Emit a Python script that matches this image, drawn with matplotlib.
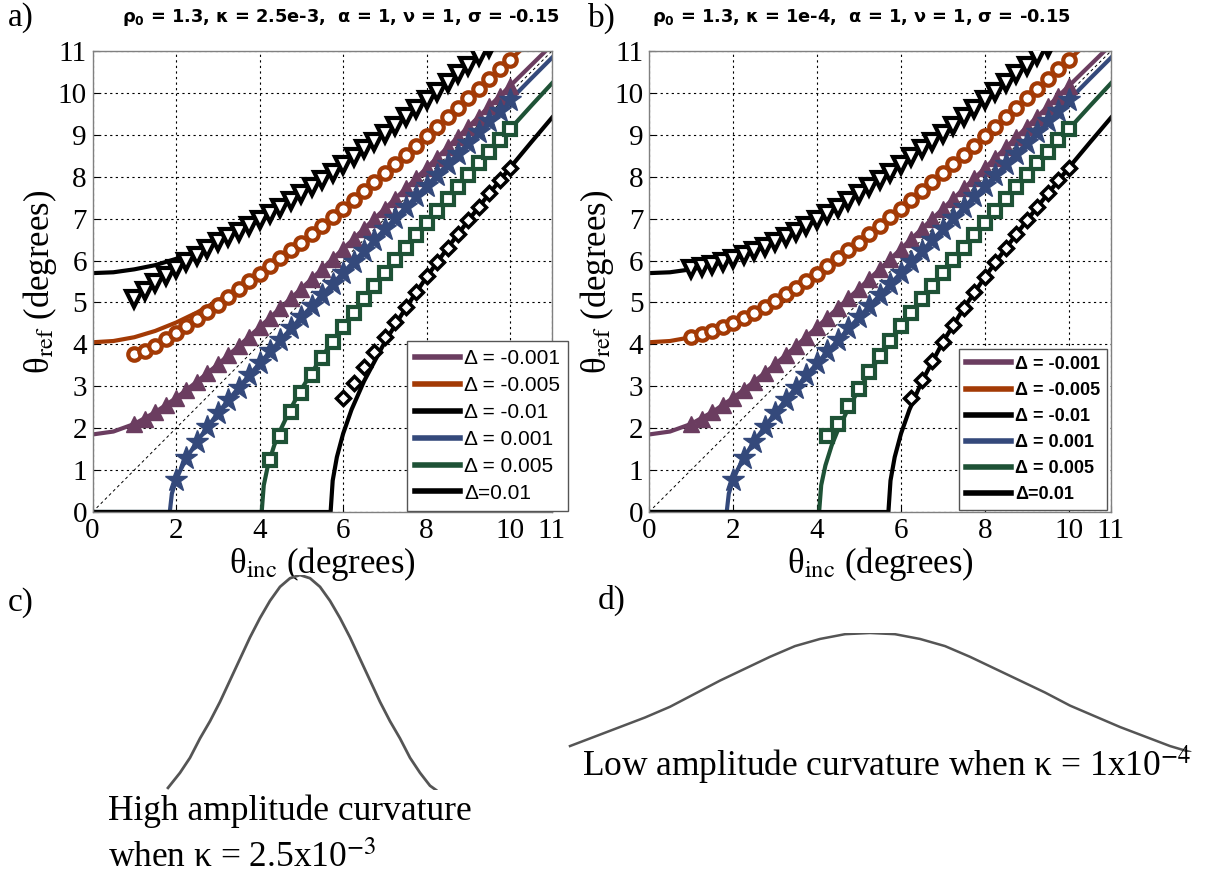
import matplotlib
matplotlib.use('Agg')
import matplotlib.pyplot as plt
import numpy as np

plt.rcParams['mathtext.fontset'] = 'stix'
plt.rcParams['font.family'] = ['Liberation Serif', 'DejaVu Serif']

nan = np.nan

# theory curves (solid lines), same in both panels
plus_x = [0, 0.5, 1, 1.5, 2, 2.5, 3, 3.5, 4, 4.5, 5, 5.5, 6, 6.5, 7, 7.5, 8, 8.5,
          9, 9.5, 10, 10.5, 11]
line_m001 = [1.85, 1.92, 2.10, 2.38, 2.72, 3.11, 3.52, 3.96, 4.41, 4.87, 5.33, 5.80,
             6.28, 6.76, 7.24, 7.72, 8.21, 8.70, 9.19, 9.68, 10.17, 10.66, 11.15]
line_m005 = [4.05, 4.08, 4.17, 4.32, 4.52, 4.76, 5.04, 5.35, 5.69, 6.05, 6.43, 6.83,
             7.24, 7.66, 8.09, 8.52, 8.97, 9.42, 9.87, 10.33, 10.79, 11.25, 11.72]
line_m01 = [5.70, 5.72, 5.79, 5.89, 6.04, 6.22, 6.44, 6.69, 6.96, 7.26, 7.58, 7.92,
            8.28, 8.65, 9.03, 9.42, 9.82, 10.23, 10.65, 11.08, 11.51, 11.95, 12.39]

p001_x = [0, 1.85, 1.9, 2.0, 2.1, 2.25, 2.5, 3, 3.5, 4, 4.5, 5, 5.5, 6, 6.5, 7, 7.5,
          8, 8.5, 9, 9.5, 10, 10.5, 11]
line_p001 = [0, 0, 0.44, 0.76, 0.99, 1.28, 1.68, 2.36, 2.97, 3.55, 4.10, 4.65, 5.18,
             5.71, 6.23, 6.75, 7.27, 7.78, 8.30, 8.81, 9.32, 9.83, 10.34, 10.84]
p005_x = [0, 4.05, 4.1, 4.2, 4.35, 4.5, 4.75, 5, 5.5, 6, 6.5, 7, 7.5, 8, 8.5, 9, 9.5,
          10, 10.5, 11]
line_p005 = [0, 0, 0.64, 1.11, 1.59, 1.96, 2.48, 2.93, 3.72, 4.43, 5.08, 5.71, 6.31,
             6.90, 7.47, 8.04, 8.59, 9.14, 9.69, 10.23]
p01_x = [0, 5.7, 5.75, 5.85, 6.0, 6.2, 6.5, 7, 7.5, 8, 8.5, 9, 9.5, 10, 10.5, 11]
line_p01 = [0, 0, 0.75, 1.31, 1.87, 2.44, 3.12, 4.06, 4.87, 5.61, 6.30, 6.96, 7.60,
            8.22, 8.82, 9.41]

# simulated points (markers)
mark_x = [1.0, 1.25, 1.5, 1.75, 2.0, 2.25, 2.5, 2.75, 3.0, 3.25, 3.5, 3.75, 4.0, 4.25,
          4.5, 4.75, 5.0, 5.25, 5.5, 5.75, 6.0, 6.25, 6.5, 6.75, 7.0, 7.25, 7.5, 7.75,
          8.0, 8.25, 8.5, 8.75, 9.0, 9.25, 9.5, 9.75, 10.0]

pts_m001 = [2.10, 2.23, 2.38, 2.55, 2.72, 2.91, 3.11, 3.31, 3.52, 3.74, 3.96, 4.18,
            4.41, 4.63, 4.87, 5.10, 5.33, 5.57, 5.80, 6.04, 6.28, 6.52, 6.76, 7.00,
            7.24, 7.48, 7.72, 7.97, 8.21, 8.45, 8.70, 8.94, 9.19, 9.43, 9.68, 9.92, 10.17]
pts_p001 = [nan] * 4 + [0.76, 1.28, 1.68, 2.04, 2.36, 2.67, 2.97, 3.26, 3.55, 3.83,
                        4.10, 4.38, 4.65, 4.91, 5.18, 5.44, 5.71, 5.97, 6.23, 6.49,
                        6.75, 7.01, 7.27, 7.53, 7.78, 8.04, 8.30, 8.55, 8.81, 9.06,
                        9.32, 9.57, 9.83]

a_m005 = [3.76, 3.84, 3.96, 4.12, 4.28, 4.44, 4.60, 4.78, 4.95, 5.14, 5.33, 5.52,
          5.69, 5.87, 6.05, 6.24, 6.43, 6.63, 6.83, 7.03, 7.24, 7.45, 7.66, 7.87,
          8.09, 8.30, 8.52, 8.74, 8.97, 9.19, 9.42, 9.64, 9.87, 10.10, 10.33, 10.56, 10.79]
a_m01 = [5.08, 5.28, 5.46, 5.63, 5.80, 5.96, 6.12, 6.28, 6.44, 6.56, 6.69, 6.82,
         6.96, 7.11, 7.26, 7.42, 7.58, 7.75, 7.92, 8.10, 8.28, 8.46, 8.65, 8.84,
         9.03, 9.22, 9.42, 9.62, 9.82, 10.03, 10.23, 10.44, 10.65, 10.87, 11.08, nan, nan]
a_p005 = [nan] * 13 + [1.25, 1.82, 2.38, 2.84, 3.28, 3.68, 4.06, 4.42, 4.76, 5.08,
                       5.40, 5.71, 6.01, 6.31, 6.61, 6.90, 7.19, 7.47, 7.76, 8.04,
                       8.32, 8.59, 8.87, 9.14]
a_p01 = [nan] * 20 + [2.72, 3.08, 3.45, 3.82, 4.18, 4.53, 4.90, 5.26, 5.62, 5.96,
                      6.30, 6.64, 6.96, 7.28, 7.60, 7.91, 8.22]

b_m005 = [4.17, 4.24, 4.32, 4.41, 4.52, 4.63, 4.76, 4.89, 5.04, 5.19, 5.35, 5.52,
          5.69, 5.87, 6.05, 6.24, 6.43, 6.63, 6.83, 7.03, 7.24, 7.45, 7.66, 7.87,
          8.09, 8.30, 8.52, 8.74, 8.97, 9.19, 9.42, 9.64, 9.87, 10.10, 10.33, 10.56, 10.79]
b_m01 = [5.79, 5.84, 5.89, 5.96, 6.04, 6.13, 6.22, 6.33, 6.44, 6.56, 6.69, 6.82,
         6.96, 7.11, 7.26, 7.42, 7.58, 7.75, 7.92, 8.10, 8.28, 8.46, 8.65, 8.84,
         9.03, 9.22, 9.42, 9.62, 9.82, 10.03, 10.23, 10.44, 10.65, 10.87, 11.08, nan, nan]
b_p005 = [nan] * 13 + [1.81, 2.10, 2.52, 2.93, 3.34, 3.72, 4.08, 4.43, 4.76, 5.08,
                       5.40, 5.71, 6.01, 6.31, 6.61, 6.90, 7.19, 7.47, 7.76, 8.04,
                       8.32, 8.59, 8.87, 9.14]
b_p01 = [nan] * 21 + [2.72, 3.14, 3.60, 4.06, 4.47, 4.87, 5.25, 5.61, 5.96, 6.30,
                      6.64, 6.96, 7.28, 7.60, 7.91, 8.22]

diag = [0, 11]
labels = ['Δ = -0.001', 'Δ = -0.005', 'Δ = -0.01', 'Δ = 0.001', 'Δ = 0.005', 'Δ=0.01']
x_ticks = [0, 2, 4, 6, 8, 10, 11]
y_ticks = [0, 1, 2, 3, 4, 5, 6, 7, 8, 9, 10, 11]

# sketches of the surface profiles
bell_c_x = [-1.32, -1.2, -1.1, -1.0, -0.9, -0.8, -0.7, -0.6, -0.5, -0.4, -0.3, -0.2,
            -0.1, 0, 0.1, 0.2, 0.3, 0.4, 0.5, 0.6, 0.7, 0.8, 0.9, 1.0, 1.1, 1.2, 1.3, 1.36]
bell_c_y = [0.01, 0.08, 0.15, 0.24, 0.32, 0.41, 0.51, 0.61, 0.71, 0.80, 0.88, 0.945,
            0.985, 1.0, 0.985, 0.945, 0.88, 0.80, 0.71, 0.61, 0.51, 0.41, 0.32, 0.24,
            0.15, 0.08, 0.02, 0.0]
bell_d_x = [-3.0, -2.75, -2.5, -2.25, -2.0, -1.75, -1.5, -1.25, -1.0, -0.75, -0.5,
            -0.25, 0, 0.25, 0.5, 0.75, 1.0, 1.25, 1.5, 1.75, 2.0, 2.25, 2.5, 2.75, 3.0, 3.2]
bell_d_y = [0.05, 0.13, 0.21, 0.29, 0.38, 0.49, 0.60, 0.70, 0.80, 0.89, 0.95, 0.99,
            1.0, 0.99, 0.95, 0.89, 0.80, 0.70, 0.60, 0.50, 0.39, 0.30, 0.21, 0.13, 0.05, 0.0]

purple = '#6b3d60'
orange = '#a33a05'
blue = '#34497b'
green = '#1e5236'

W, H = 1213, 876
fig = plt.figure(figsize=(W / 100, H / 100), dpi=100)


def panel(ax, m005, m01, p005, p01, bold):
    ax.plot(diag, diag, color='black', lw=0.7, ls=(0, (3, 3)), zorder=1)
    ax.plot(plus_x, line_m001, color=purple, lw=3, label=labels[0], zorder=2)
    ax.plot(plus_x, line_m005, color=orange, lw=3, label=labels[1], zorder=2)
    ax.plot(plus_x, line_m01, color='black', lw=3, label=labels[2], zorder=2)
    ax.plot(p001_x, line_p001, color=blue, lw=3, label=labels[3], zorder=2)
    ax.plot(p005_x, line_p005, color=green, lw=3, label=labels[4], zorder=2)
    ax.plot(p01_x, line_p01, color='black', lw=3, label=labels[5], zorder=2)

    ax.plot(mark_x, pts_m001, ls='none', marker='^', ms=12, color=purple, zorder=3)
    ax.plot(mark_x, m005, ls='none', marker='o', ms=9, mew=3, mfc='white',
            color=orange, zorder=3)
    ax.plot(mark_x, m01, ls='none', marker='v', ms=12, mew=3, mfc='white',
            color='black', zorder=3)
    ax.plot(mark_x, pts_p001, ls='none', marker='*', ms=17, color=blue, zorder=3)
    ax.plot(mark_x, p005, ls='none', marker='s', ms=8, mew=3, mfc='white',
            color=green, zorder=3)
    ax.plot(mark_x, p01, ls='none', marker='D', ms=7, mew=2.5, mfc='white',
            color='black', zorder=3)

    ax.set_xlim(0, 11)
    ax.set_ylim(0, 11)
    ax.set_xticks(x_ticks)
    ax.set_yticks(y_ticks)
    ax.tick_params(direction='in', length=4, labelsize=21, pad=4, colors='black')
    ax.grid(True, color='black', ls=(0, (2, 3)), lw=0.8)
    for s in ax.spines.values():
        s.set_color('#808080')
        s.set_linewidth(1)
    ax.set_xlabel('θ$_{\\mathrm{inc}}$ (degrees)', fontsize=25, labelpad=1)
    ax.set_ylabel('θ$_{\\mathrm{ref}}$ (degrees)', fontsize=25, labelpad=-1)

    if bold:
        prop = {'family': 'Liberation Sans', 'weight': 'bold', 'size': 13}
        anchor = (0.671, 0.004)
        spacing = 0.5
        hlen = 2.5
    else:
        prop = {'family': 'Liberation Sans', 'size': 15}
        anchor = (0.684, 0.002)
        spacing = 0.38
        hlen = 2.15
    leg = ax.legend(loc='lower left', bbox_to_anchor=anchor, borderaxespad=0,
                    prop=prop, fancybox=False, framealpha=1, edgecolor='#555555',
                    handlelength=hlen, handletextpad=0.2, labelspacing=spacing,
                    borderpad=0.4)
    leg.get_frame().set_linewidth(1)
    for h in leg.get_lines():
        h.set_linewidth(4)
    leg.set_zorder(5)


ax_a = fig.add_axes([92.5 / W, 1 - 512 / H, 459.5 / W, 461 / H])
panel(ax_a, a_m005, a_m01, a_p005, a_p01, bold=False)
ax_b = fig.add_axes([649 / W, 1 - 512 / H, 462 / W, 461 / H])
panel(ax_b, b_m005, b_m01, b_p005, b_p01, bold=True)

title_font = {'family': 'DejaVu Sans', 'weight': 'bold', 'size': 12.8}
fig.text(122 / W, 1 - 18 / H,
         'ρ$_{\\mathbf{0}}$ = 1.3, κ = 2.5e-3,  α = 1, ν = 1, σ = -0.15',
         va='center', ha='left', fontdict=title_font, math_fontfamily='dejavusans')
fig.text(652 / W, 1 - 18 / H,
         'ρ$_{\\mathbf{0}}$ = 1.3, κ = 1e-4,  α = 1, ν = 1, σ = -0.15',
         va='center', ha='left', fontdict=title_font, math_fontfamily='dejavusans')

for lab, px, py in [('a)', 8, 18), ('b)', 588, 18), ('c)', 8, 603), ('d)', 598, 600)]:
    fig.text(px / W, 1 - py / H, lab, fontsize=24, va='center', ha='left')

# profile sketches
ax_c = fig.add_axes([160 / W, 1 - 790 / H, 280 / W, 215 / H])
ax_c.plot(bell_c_x, bell_c_y, color='#555555', lw=2)
ax_c.set_xlim(-1.4, 1.4)
ax_c.set_ylim(0, 1)
ax_c.axis('off')

ax_d = fig.add_axes([560 / W, 1 - 752 / H, 640 / W, 119 / H])
ax_d.plot(bell_d_x, bell_d_y, color='#555555', lw=1.8)
ax_d.set_xlim(-3.1, 3.3)
ax_d.set_ylim(0, 1)
ax_d.axis('off')

fig.text(108 / W, 1 - 811 / H, 'High amplitude curvature', fontsize=25.5,
         va='center', ha='left')
fig.text(108 / W, 1 - 858 / H, 'when κ = 2.5x10$^{\\mathrm{-3}}$', fontsize=25.5,
         va='center', ha='left')
fig.text(582 / W, 1 - 765 / H, 'Low amplitude curvature when κ = 1x10$^{\\mathrm{-4}}$',
         fontsize=25.5, va='center', ha='left')

fig.savefig('out.png', dpi=100)
